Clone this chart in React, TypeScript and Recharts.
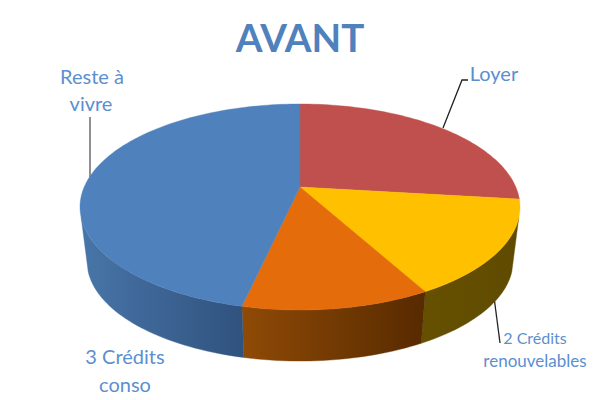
import React from "react";
import { PieChart, Pie, Cell } from "recharts";

const categories = ["Loyer", "2 Crédits renouvelables", "3 Crédits conso", "Reste à vivre"];
const shares = [26.9, 15.1, 11.5, 46.5];
const topColors = ["#C0504D", "#FFC000", "#E46C0A", "#4F81BD"];
const wallFrom = ["#7a3230", "#665000", "#8f4a06", "#4875A8"];
const wallTo = ["#7a3230", "#5f4b00", "#572a00", "#30527e"];
const titleText = "AVANT";
const data = categories.map((name, i) => ({ name, value: shares[i] }));

const TILT = 0.194;
const RX = 0.981;
const RY = 0.4505;
const WALL_DROP = 55;
const WALL_SCALE = 0.968;
const WALL_LIMIT = [-163, -17];
const FONT = "Lato, Carlito, sans-serif";
const TEXT = "#5B8FD0";

const rad = Math.PI / 180;
function project(cx: number, cy: number, r: number, deg: number, scale = 1, drop = 0) {
  const c = Math.cos(deg * rad);
  const s = Math.sin(deg * rad);
  const w = 1 + TILT * s;
  return [cx + (scale * r * RX * c) / w, cy + drop - (scale * r * RY * s) / w];
}
function sample(from: number, to: number) {
  const n = Math.max(2, Math.ceil(Math.abs(to - from) / 1.5));
  const out: number[] = [];
  for (let i = 0; i <= n; i++) out.push(from + ((to - from) * i) / n);
  return out;
}
const toPath = (pts: number[][]) => pts.map((p, i) => `${i ? "L" : "M"}${p[0].toFixed(2)} ${p[1].toFixed(2)}`).join(" ");

function Slice(props: any) {
  const { cx, cy, outerRadius, startAngle, endAngle, index, fill } = props;
  const idx = index ?? categories.indexOf(props.name);
  const top = sample(startAngle, endAngle).map((a) => project(cx, cy, outerRadius, a));
  const topPath = `M${cx} ${cy} ` + toPath(top).replace(/^M/, "L") + " Z";
  const hi = Math.min(Math.max(startAngle, endAngle), WALL_LIMIT[1]);
  const lo = Math.max(Math.min(startAngle, endAngle), WALL_LIMIT[0]);
  let wall = null;
  if (hi > lo) {
    const angles = sample(lo, hi);
    const upper = angles.map((a) => project(cx, cy, outerRadius, a));
    const lower = angles.map((a) => project(cx, cy, outerRadius, a, WALL_SCALE, WALL_DROP)).reverse();
    const xs = [...upper, ...lower].map((p) => p[0]);
    const id = `wall-${idx}`;
    wall = (
      <>
        <defs>
          <linearGradient id={id} gradientUnits="userSpaceOnUse" x1={Math.min(...xs)} x2={Math.max(...xs)} y1={0} y2={0}>
            <stop offset="0" stopColor={wallFrom[idx]} />
            <stop offset="1" stopColor={wallTo[idx]} />
          </linearGradient>
        </defs>
        <path d={toPath([...upper, ...lower]) + " Z"} fill={`url(#${id})`} stroke={`url(#${id})`} strokeWidth={0.4} />
      </>
    );
  }
  return (
    <g>
      {wall}
      <path d={topPath} fill={fill} stroke={fill} strokeWidth={0.4} />
    </g>
  );
}

const lineStyle = { fill: "none", strokeWidth: 1.3 };
const labelStyle = { fontFamily: FONT, fill: TEXT };

export default function App() {
  return (
    <div style={{ position: "absolute", left: 0, top: 0, width: 600, height: 400, background: "#fff" }}>
      <PieChart width={600} height={400} margin={{ top: 0, right: 0, bottom: 0, left: 0 }}>
        <polyline points="443,128 462,80 468,80" stroke="#222" {...lineStyle} />
        <polyline points="90,117 90,177" stroke="#555" {...lineStyle} />
        <polyline points="494,297 500,343" stroke="#222" {...lineStyle} />
        <Pie
          data={data}
          dataKey="value"
          nameKey="name"
          cx={300}
          cy={187}
          innerRadius={0}
          outerRadius={220}
          startAngle={90}
          endAngle={-270}
          paddingAngle={0}
          stroke="none"
          label={false}
          labelLine={false}
          isAnimationActive={false}
          shape={Slice}
        >
          {data.map((d, i) => (
            <Cell key={d.name} fill={topColors[i]} />
          ))}
        </Pie>
        <text x={300} y={52} textAnchor="middle" fontFamily={FONT} fontWeight={700} fontSize={38.5} fill="#4F81BD">{titleText}</text>
        <text x={92} y={84} textAnchor="middle" fontSize={20} {...labelStyle}>Reste à</text>
        <text x={91} y={111} textAnchor="middle" fontSize={20} {...labelStyle}>vivre</text>
        <text x={494} y={81} textAnchor="middle" fontSize={20} {...labelStyle}>Loyer</text>
        <text x={535} y={344} textAnchor="middle" fontSize={16} {...labelStyle}>2 Crédits</text>
        <text x={535} y={367} textAnchor="middle" fontSize={17} {...labelStyle}>renouvelables</text>
        <text x={125} y={364} textAnchor="middle" fontSize={20} {...labelStyle}>3 Crédits</text>
        <text x={125} y={392} textAnchor="middle" fontSize={20} {...labelStyle}>conso</text>
      </PieChart>
    </div>
  );
}
